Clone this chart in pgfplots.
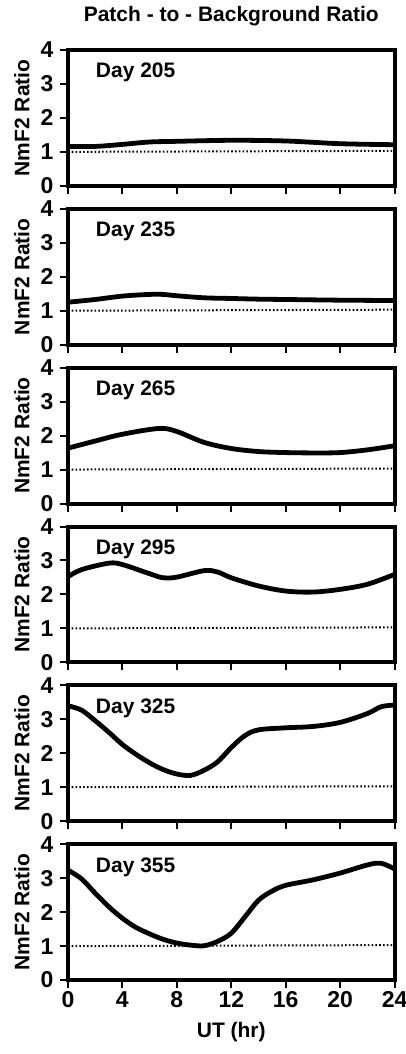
\documentclass[border=0pt]{standalone}
\usepackage{fontspec}
\setmainfont{Liberation Sans}
\usepackage{pgfplots}
\pgfplotsset{compat=1.18}
\usepgfplotslibrary{groupplots}

\pgfplotsset{
  panel/.style={
    width=327pt, height=136pt, scale only axis,
    xmin=0, xmax=24, ymin=0, ymax=4,
    xtick={0,4,...,24}, ytick={0,1,2,3,4},
    axis line style={line width=4pt},
    tick style={line width=2pt, black},
    major tick length=8pt,
    tick align=outside, tick pos=left,
    ticklabel style={font=\fontsize{23}{24}\selectfont\bfseries},
    yticklabel style={xshift=-3pt},
    /pgf/number format/assume math mode=true,
    ylabel={NmF2 Ratio},
    ylabel style={font=\fontsize{21}{22}\selectfont\bfseries,
      at={(rel axis cs:0,0.5)}, anchor=center, yshift=46pt},
    xlabel style={font=\fontsize{21}{22}\selectfont\bfseries,
      at={(rel axis cs:0.5,0)}, anchor=center, yshift=-52pt},
  },
  curve/.style={black, line width=4.8pt, smooth, tension=0.55},
  base/.style={black, line width=2pt, dash pattern=on 1.6pt off 2.2pt},
}
\newcommand{\daylabel}[1]{\node[anchor=west, font=\fontsize{21}{22}\selectfont\bfseries] at (axis cs:1.8,3.33) {#1};}

\begin{document}
\begin{tikzpicture}
\begin{groupplot}[
  group style={group size=1 by 6, vertical sep=23pt,
    xticklabels at=edge bottom, xlabels at=edge bottom},
  panel,
]
\nextgroupplot[title={Patch - to - Background Ratio},
  title style={font=\fontsize{21}{22}\selectfont\bfseries, at={(0.5,1)}, anchor=south, yshift=14pt}]
\addplot[curve] coordinates {(0,1.16) (2,1.16) (4,1.22) (6,1.29) (8,1.31) (12,1.34) (16,1.32) (20,1.24) (24,1.21)};
\addplot[base] coordinates {(0,1) (24,1.03)};
\daylabel{Day 205}

\nextgroupplot
\addplot[curve] coordinates {(0,1.25) (2,1.33) (4,1.43) (6,1.48) (7,1.48) (8,1.44) (10,1.38) (12,1.36) (14,1.34) (16,1.33) (20,1.31) (24,1.3)};
\addplot[base] coordinates {(0,1) (24,1.03)};
\daylabel{Day 235}

\nextgroupplot
\addplot[curve] coordinates {(0,1.63) (2,1.84) (4,2.04) (6.7,2.21) (8,2.12) (10,1.8) (12,1.62) (14,1.53) (16,1.5) (18,1.49) (20,1.5) (22,1.58) (24,1.7)};
\addplot[base] coordinates {(0,1) (24,1.03)};
\daylabel{Day 265}

\nextgroupplot
\addplot[curve] coordinates {(0,2.52) (1,2.73) (3,2.92) (4,2.88) (6,2.61) (7,2.49) (8,2.51) (10,2.7) (11,2.66) (12,2.49) (14,2.25) (16,2.1) (18,2.07) (20,2.15) (22,2.3) (24,2.59)};
\addplot[base] coordinates {(0,1) (24,1.03)};
\daylabel{Day 295}

\nextgroupplot
\addplot[curve] coordinates {(0,3.4) (1,3.27) (2,2.96) (3,2.62) (4,2.26) (5,1.97) (6,1.72) (7,1.52) (8,1.39) (9,1.35) (10,1.5) (11,1.75) (12,2.17) (13,2.52) (14,2.69) (16,2.75) (18,2.79) (20,2.91) (22,3.17) (23,3.37) (24,3.42)};
\addplot[base] coordinates {(0,1) (24,1.03)};
\daylabel{Day 325}

\nextgroupplot[xlabel={UT (hr)}]
\addplot[curve] coordinates {(0,3.24) (1,2.98) (2,2.56) (3,2.16) (4,1.82) (5,1.55) (6,1.36) (7,1.2) (8,1.09) (9,1.03) (10,1.01) (11,1.14) (12,1.38) (13,1.86) (14,2.35) (15,2.62) (16,2.79) (18,2.95) (20,3.15) (22,3.39) (23,3.44) (24,3.27)};
\addplot[base] coordinates {(0,1) (24,1.03)};
\daylabel{Day 355}
\end{groupplot}
\pgfresetboundingbox
\path ([xshift=-68pt,yshift=-74pt]group c1r6.south west) rectangle ([xshift=11pt,yshift=50pt]group c1r1.north east);
\end{tikzpicture}
\end{document}
